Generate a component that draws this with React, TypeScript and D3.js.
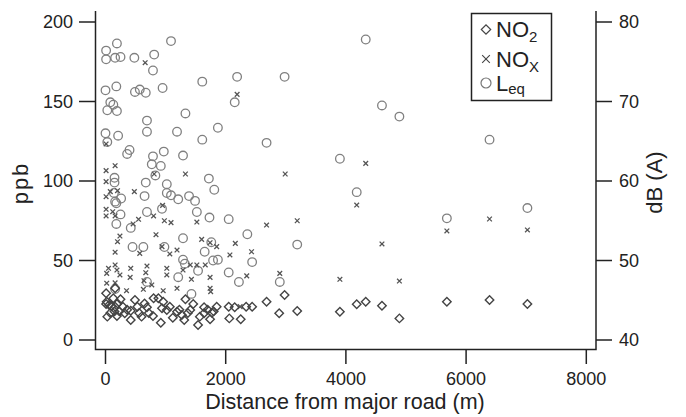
import * as d3 from "d3";

// distance (m), ppb
const no2: [number, number][] = [
  [10, 29.4], [20, 24.1], [10, 22.6], [30, 14.7], [160, 32.5], [130, 26.2], [100, 21.4], [160, 20.9],
  [190, 15.1], [250, 25.6], [290, 20.9], [320, 16.8], [420, 18.4], [420, 12.6], [490, 25.2], [530, 20.9],
  [600, 14.7], [690, 20.6], [790, 15.1], [920, 10.9], [800, 26.2], [880, 26.2], [960, 24.1], [1020, 18.9],
  [1070, 20.9], [1190, 17.8], [1270, 15.7], [1310, 12.6], [1330, 25.6], [1410, 18.9], [1460, 22.6], [1540, 9.4],
  [1570, 14.7], [1640, 20.6], [1640, 16.8], [1740, 13], [1770, 17.2], [1850, 20.9], [2050, 20.9], [2060, 13.6],
  [2150, 20.6], [2250, 13], [2340, 20.9], [2440, 20.9], [2680, 24.1], [2890, 16.8], [2980, 28.3], [3190, 18.2],
  [3900, 17.8], [4180, 22.5], [4330, 24.1], [4600, 21.6], [4890, 13.6], [5680, 24.1], [6390, 25.2], [7020, 22.6],
  [60, 22], [200, 23], [230, 18], [360, 19], [560, 17], [650, 23], [720, 17], [1120, 14], [1230, 19],
  [1370, 17], [1700, 19], [1800, 18], [940, 20], [80, 17], [150, 18],
];

// distance (m), ppb
const nox: [number, number][] = [
  [660, 174.4], [2190, 154.5], [10, 106.5], [160, 109.6], [10, 99.6], [1330, 104.4], [2990, 104.4], [10, 90.1],
  [80, 93.3], [200, 93.9], [480, 93.3], [10, 123.3], [810, 104.4], [950, 84.7], [10, 82.2], [10, 78],
  [120, 80.7], [160, 78], [460, 73], [550, 75.9], [800, 78], [980, 75], [1090, 73.8], [1520, 74.2],
  [840, 66.2], [240, 65.4], [200, 61.8], [160, 55.2], [570, 54.5], [1070, 54.1], [1190, 56.6], [940, 58.7],
  [1600, 63.3], [1740, 61.2], [1850, 58.7], [2160, 60.8], [2070, 53.5], [2430, 55.5], [2680, 72.3], [3190, 75],
  [2900, 41.9], [2350, 40.3], [3900, 38.2], [20, 41.9], [50, 45.1], [160, 47.2], [190, 44], [240, 40.9],
  [410, 39.4], [420, 45.1], [690, 46.5], [670, 42.3], [640, 37.3], [630, 31.9], [770, 34.6], [1020, 45.1],
  [1020, 40.9], [1190, 32.5], [1290, 44], [1410, 47.2], [1430, 38.2], [1520, 47.2], [1740, 39.4], [1740, 32.5],
  [1750, 30.4], [1660, 47.2], [960, 31], [350, 31], [160, 36], [20, 35.7], [2240, 21],
  [4330, 111.1], [4180, 84.9], [5680, 68.6], [6390, 76.1], [7020, 69.2], [4600, 60.4], [4890, 37.1],
];

// distance (m), dB(A)
const leq: [number, number][] = [
  [10, 76.4], [10, 75.3], [190, 77.3], [160, 75.5], [250, 75.6], [480, 75.5], [810, 75.9], [790, 73.9],
  [1090, 77.6], [1610, 72.5], [2190, 73.1], [2980, 73.1], [0, 71.4], [180, 71.9], [490, 71.2], [570, 71.5],
  [670, 71.1], [950, 71.7], [80, 69.9], [130, 69.6], [30, 68.9], [190, 68.8], [2150, 69.9], [1330, 68.5],
  [690, 67.6], [690, 66.2], [0, 66.0], [210, 65.7], [1190, 66.2], [1870, 66.7], [1610, 65.2], [2680, 64.8],
  [3900, 62.8], [30, 64.9], [400, 63.9], [360, 63.4], [790, 63.1], [970, 63.7], [1290, 63.2], [770, 62.1],
  [920, 61.9], [830, 60.7], [670, 59.8], [1020, 59.6], [1720, 60.3], [1810, 58.9], [150, 60.4], [150, 59.8],
  [650, 58.1], [1020, 58.5], [1090, 58.2], [1210, 57.7], [1390, 58.1], [1490, 57.5], [140, 58.5], [160, 57.4],
  [260, 57.8], [180, 57.2], [250, 55.8], [180, 54.6], [420, 54.1], [690, 56.1], [940, 56.5], [1520, 56.1],
  [1730, 55.4], [2050, 55.2], [1290, 52.8], [2360, 53.3], [3190, 52.0], [630, 51.7], [450, 51.7], [980, 51.7],
  [1650, 51.1], [1760, 52.3], [1290, 50.1], [1320, 49.6], [1790, 50.0], [1870, 50.1], [2440, 49.8], [1540, 48.7],
  [2050, 48.5], [1210, 47.9], [2220, 47.3], [2900, 47.3], [1430, 45.8], [690, 47.3], [160, 46.4],
  [4330, 77.8], [4600, 69.5], [4890, 68.1], [6390, 65.2], [4180, 58.6], [5680, 55.3], [7020, 56.6],
];

const xTicks = [0, 2000, 4000, 6000, 8000];
const ppbTicks = [0, 50, 100, 150, 200];
const dbTicks = [40, 50, 60, 70, 80];

const W = 686;
const H = 417;
const FONT = "'Liberation Sans', Arial, Helvetica, sans-serif";

const x = d3.scaleLinear().domain([0, 8000]).range([105.5, 586.3]);
const yPpb = d3.scaleLinear().domain([0, 200]).range([340, 22]);
const yDb = d3.scaleLinear().domain([40, 80]).range([340, 22]);

const frame = { left: 95.5, right: 596, top: 11, bottom: 349.5 };

const diamond = (s: number) => d3.symbol(d3.symbolSquare, s)()!;
const times = (s: number) => d3.symbol(d3.symbolTimes, s)()!;

const App = () => {
  const ink = "#222";
  return (
    <svg
      width={W}
      height={H}
      viewBox={`0 0 ${W} ${H}`}
      style={{ position: "absolute", left: 0, top: 0, background: "white" }}
      fontFamily={FONT}
    >
      {/* points */}
      <g>
        {leq.map((d, i) => (
          <circle key={"l" + i} cx={x(d[0])} cy={yDb(d[1])} r={4.3} fill="none" stroke="#808080" strokeWidth={1.3} />
        ))}
        {nox.map((d, i) => (
          <path key={"x" + i} d={times(16)} transform={`translate(${x(d[0])},${yPpb(d[1])})`} stroke="#555" strokeWidth={1.3} fill="none" />
        ))}
        {no2.map((d, i) => (
          <path key={"n" + i} d={diamond(36)} transform={`translate(${x(d[0])},${yPpb(d[1])}) rotate(45)`} stroke="#444" strokeWidth={1.4} fill="none" />
        ))}
      </g>

      {/* frame, open at the top */}
      <path
        d={`M${frame.left},${frame.top}V${frame.bottom}H${frame.right}V${frame.top}`}
        fill="none"
        stroke={ink}
        strokeWidth={1.5}
      />

      {/* left axis */}
      {ppbTicks.map((t) => (
        <g key={"p" + t}>
          <line x1={79} x2={frame.left} y1={yPpb(t)} y2={yPpb(t)} stroke={ink} strokeWidth={1.5} />
          <text x={73} y={yPpb(t)} dy="0.36em" textAnchor="end" fontSize={18} fill={ink}>{t}</text>
        </g>
      ))}
      {/* right axis */}
      {dbTicks.map((t) => (
        <g key={"d" + t}>
          <line x1={frame.right} x2={612} y1={yDb(t)} y2={yDb(t)} stroke={ink} strokeWidth={1.5} />
          <text x={619} y={yDb(t)} dy="0.36em" textAnchor="start" fontSize={18} fill={ink}>{t}</text>
        </g>
      ))}
      {/* bottom axis */}
      {xTicks.map((t) => (
        <g key={"t" + t}>
          <line x1={x(t)} x2={x(t)} y1={frame.bottom} y2={364} stroke={ink} strokeWidth={1.5} />
          <text x={x(t)} y={385} textAnchor="middle" fontSize={18} fill={ink}>{t}</text>
        </g>
      ))}

      {/* titles */}
      <text x={345} y={408.5} textAnchor="middle" fontSize={21.5} fill={ink}>Distance from major road (m)</text>
      <text transform="translate(28,183) rotate(-90)" textAnchor="middle" fontSize={22} letterSpacing={2} fill={ink}>ppb</text>
      <text transform="translate(662,182.5) rotate(-90)" textAnchor="middle" fontSize={22} fill={ink}>dB (A)</text>

      {/* legend */}
      <g>
        <rect x={471.5} y={13.5} width={80} height={87} fill="white" stroke={ink} strokeWidth={1.5} />
        <path d={diamond(44)} transform="translate(486,29.5) rotate(45)" fill="none" stroke="#444" strokeWidth={1.2} />
        <path d={times(40)} transform="translate(486,59)" fill="none" stroke="#444" strokeWidth={1.1} />
        <circle cx={486} cy={83} r={5} fill="none" stroke="#777" strokeWidth={1.2} />
        <text x={496} y={37} fontSize={22} fill={ink}>
          NO<tspan fontSize={15} dy={5}>2</tspan>
        </text>
        <text x={496} y={67} fontSize={22} fill={ink}>
          NO<tspan fontSize={15} dy={5}>X</tspan>
        </text>
        <text x={496} y={91} fontSize={22} fill={ink}>
          L<tspan fontSize={15} dy={3}>eq</tspan>
        </text>
      </g>
    </svg>
  );
};

export default App;
